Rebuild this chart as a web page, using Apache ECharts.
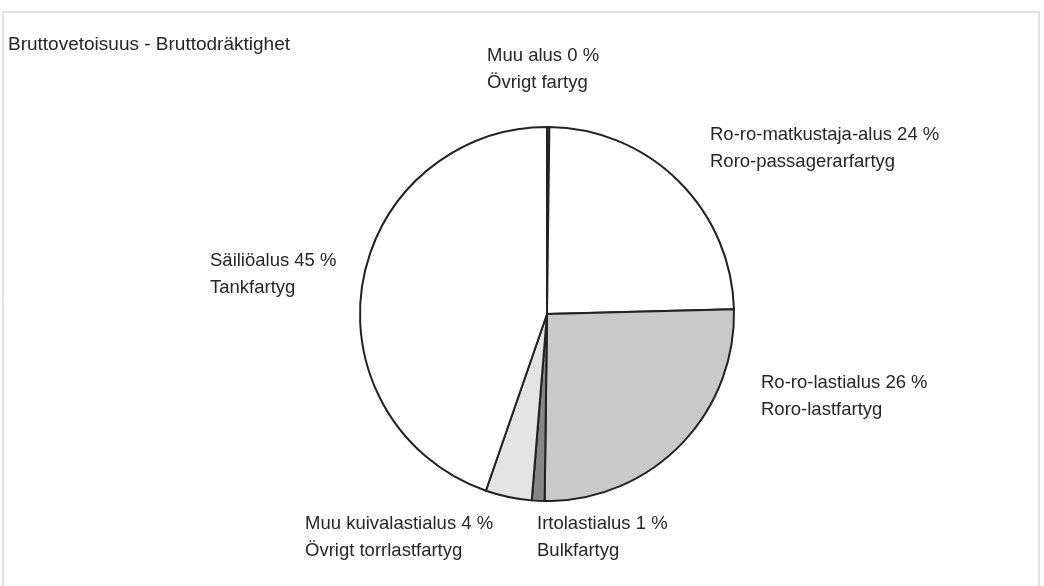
<!DOCTYPE html>
<html>
<head>
<meta charset="utf-8">
<title>Bruttovetoisuus - Bruttodräktighet</title>
<script src="https://cdn.jsdelivr.net/npm/echarts@6/dist/echarts.min.js"></script>
<style>
  html, body { margin: 0; padding: 0; background: #fff; }
  #main { width: 1044px; height: 586px; }
</style>
</head>
<body>
<div id="main"></div>
<script>
// data (percent of gross tonnage)
var namesFi = ['Muu alus', 'Ro-ro-matkustaja-alus', 'Ro-ro-lastialus', 'Irtolastialus', 'Muu kuivalastialus', 'Säiliöalus'];
var namesSv = ['Övrigt fartyg', 'Roro-passagerarfartyg', 'Roro-lastfartyg', 'Bulkfartyg', 'Övrigt torrlastfartyg', 'Tankfartyg'];
var shares = [0.2, 24.4, 25.6, 1.1, 4.0, 44.7];
var shownPct = [0, 24, 26, 1, 4, 45];

// layout / style, kept apart from the data
var fills = ['#ffffff', '#ffffff', '#c9c9c9', '#858585', '#e3e3e3', '#ffffff'];
var labelAt = [[487, 56], [710, 135], [761, 383], [537, 524], [305, 524], [210, 261]];
var lineH = 27;

var chart = echarts.init(document.getElementById('main'));

var pieData = shares.map(function (v, i) {
    return {
        name: namesFi[i],
        value: v,
        itemStyle: { color: fills[i] },
        label: {
            formatter: namesFi[i] + ' ' + shownPct[i] + ' %\n' + namesSv[i]
        }
    };
});

chart.setOption({
    animation: false,
    backgroundColor: '#fff',
    title: {
        text: 'Bruttovetoisuus - Bruttodräktighet',
        left: 8,
        top: 35,
        padding: 0,
        textStyle: {
            fontFamily: 'Liberation Sans, Arial, sans-serif',
            fontSize: 19,
            fontWeight: 'normal',
            color: '#262626'
        }
    },
    graphic: [{
        type: 'rect',
        shape: { x: 3, y: 12, width: 1036, height: 580 },
        style: { fill: 'none', stroke: '#c4c4c4', lineWidth: 1 },
        silent: true
    }],
    series: [{
        type: 'pie',
        center: [547, 314],
        radius: 187,
        startAngle: 90,
        clockwise: true,
        avoidLabelOverlap: false,
        emphasis: { disabled: true },
        itemStyle: {
            borderColor: '#222222',
            borderWidth: 2
        },
        label: {
            show: true,
            position: 'outside',
            fontFamily: 'Liberation Sans, Arial, sans-serif',
            fontSize: 18.5,
            lineHeight: lineH,
            color: '#262626',
            align: 'left'
        },
        labelLine: { show: false },
        labelLayout: function (params) {
            var p = labelAt[params.dataIndex];
            return {
                x: p[0],
                y: p[1] - lineH / 2,
                align: 'left',
                verticalAlign: 'top'
            };
        },
        data: pieData
    }]
});
</script>
</body>
</html>
